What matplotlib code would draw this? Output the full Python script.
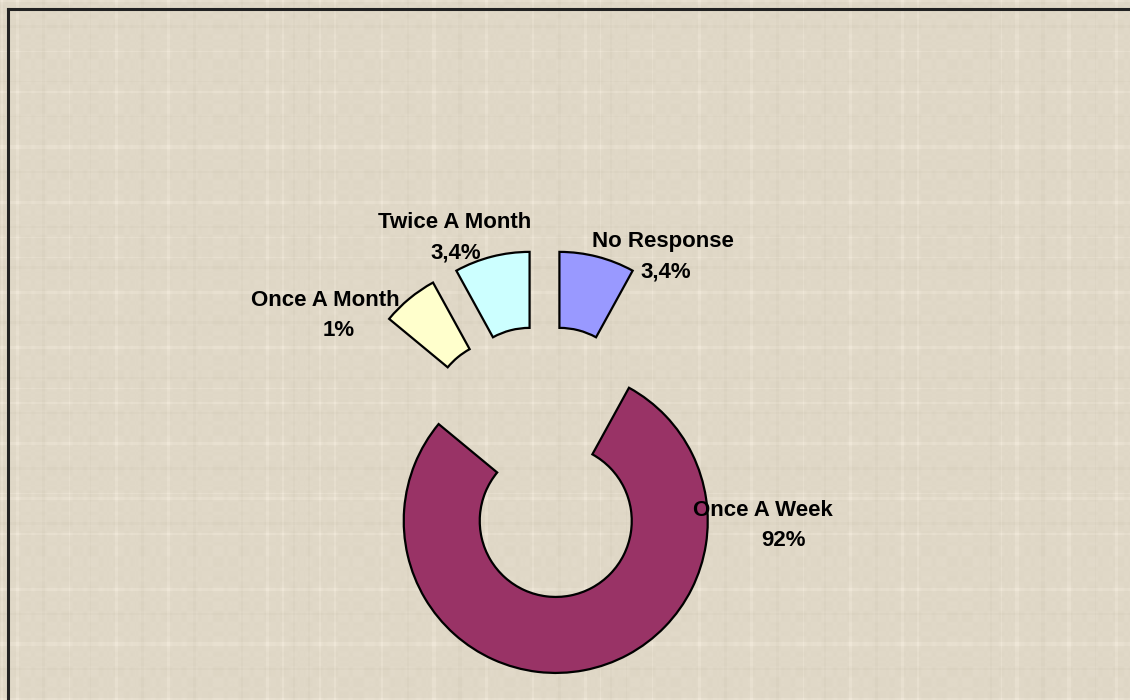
import numpy as np
import matplotlib
matplotlib.use('Agg')
import matplotlib.pyplot as plt

# wedge sizes as drawn (share of the ring), clockwise from 12 o'clock
categories = ['No Response', 'Once A Week', 'Once A Month', 'Twice A Month']
values = [8, 78, 6, 8]
pct_labels = ['3,4%', '92%', '1%', '3,4%']
colors = ['#9999FF', '#993366', '#FFFFCC', '#CCFFFF']

W, H = 1130, 700
fig = plt.figure(figsize=(W / 100, H / 100), dpi=100)
ax = fig.add_axes([0, 0, 1, 1])

# beige linen-like background (thin light/dark threads both ways)
yy, xx = np.mgrid[0:H, 0:W]
vx = np.sin(xx * 0.83) * 0.5 + np.sin(xx * 0.377 + 1.3) + np.sin(xx * 0.119 + 0.4) * 0.8
vy = np.sin(yy * 0.91) * 0.5 + np.sin(yy * 0.341 + 2.1) + np.sin(yy * 0.127 + 1.7) * 0.8
lx = np.where(vx > 1.6, 1.0, 0.0) - np.where(vx < -1.7, 0.6, 0.0)
ly = np.where(vy > 1.6, 1.0, 0.0) - np.where(vy < -1.7, 0.6, 0.0)
tex = 0.6 * lx + 0.6 * ly + 0.25 * np.tanh(vx) * np.tanh(vy)
base = np.array([224, 216, 199]) / 255.0
img = base[None, None, :] + (tex[..., None] * np.array([0.040, 0.040, 0.045]))
img = np.clip(img, 0, 1)
ax.imshow(img, extent=(0, W, 0, H), origin='upper', zorder=0, aspect='auto',
          interpolation='bilinear')

# exploded doughnut
cx, cy = 544.5, H - 462
R = 152
ax.pie(values, colors=colors, startangle=90, counterclock=False,
       radius=R, center=(cx, cy), explode=[60] * 4,
       wedgeprops=dict(width=R / 2, edgecolor='black', linewidth=1.6))

# frame (top and left lines only visible)
ax.plot([8, W], [H - 9, H - 9], color='#222222', lw=2.2, zorder=5)
ax.plot([8, 8], [H - 9, 0], color='#222222', lw=2.2, zorder=5)

# label positions (pixel coords: name line, percent line)
name_pos = [(663, 242), (763, 510), (325, 300), (455, 223)]
pct_pos = [(666, 272), (783, 540), (339, 330), (456, 253)]
font = dict(family='Liberation Sans', weight='bold', size=16, color='black',
            ha='center', va='center', zorder=6)
for name, p, (nx, ny), (px, py) in zip(categories, pct_labels, name_pos, pct_pos):
    ax.text(nx, H - ny, name, **font)
    ax.text(px, H - py, p, **font)

ax.set_xlim(0, W)
ax.set_ylim(0, H)
ax.set_aspect('auto')
ax.set_axis_off()

fig.savefig('out.png', dpi=100)
